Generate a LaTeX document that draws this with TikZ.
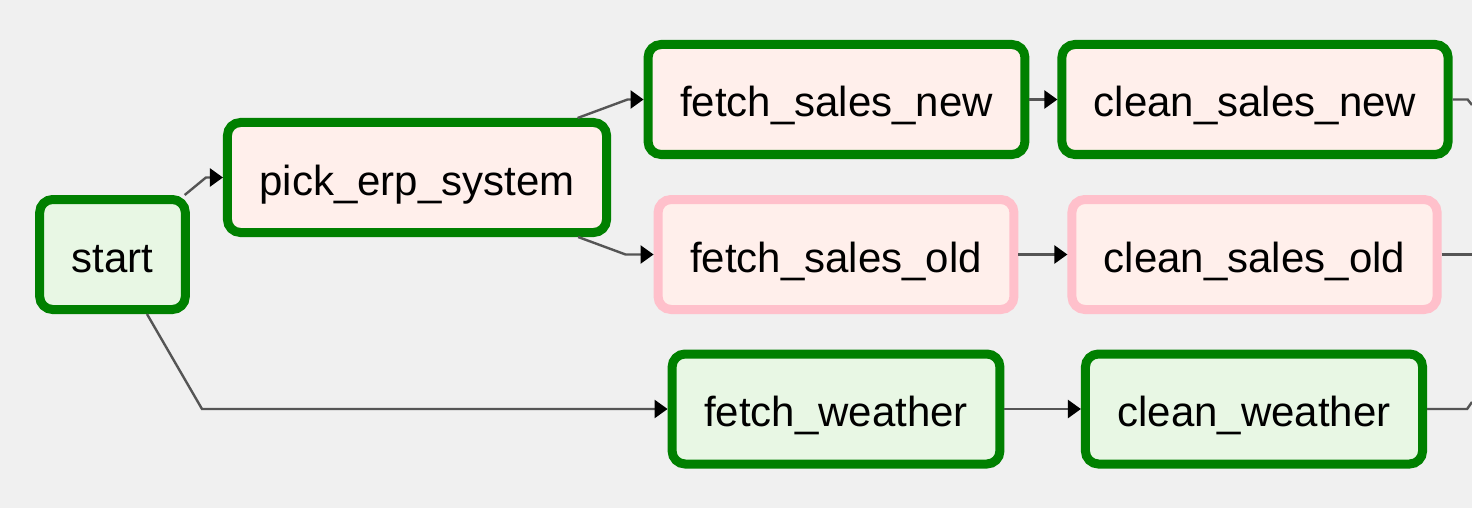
\documentclass[tikz,border=0pt]{standalone}
\usepackage{fontspec}
\setmainfont{Liberation Sans}
\usetikzlibrary{arrows.meta, positioning}

\definecolor{okgreen}{HTML}{008000}
\definecolor{skippink}{HTML}{FFC0CB}
\definecolor{dummyfill}{HTML}{E8F7E4}
\definecolor{pyfill}{HTML}{FFEFEB}
\definecolor{canvasgray}{HTML}{F0F0F0}
\definecolor{edgegray}{HTML}{555555}

\begin{document}
\begin{tikzpicture}[
	  x=0.5pt, y=-0.5pt,
	  font=\fontsize{21}{25}\selectfont,
	  task/.style={
	    draw=okgreen,
	    line width=4.5pt,
	    rounded corners=6.5pt,
	    minimum height=55pt,
	    inner xsep=16pt,
	    text height=22pt,
	    text depth=4.5pt,
	    fill=pyfill
	  },
	  dummytask/.style={task,fill=dummyfill},
	  skiptask/.style={task,draw=skippink},
	  edge/.style={edgegray,line width=1.2pt,-{Triangle[length=6.5pt,width=9pt,color=black]}},
	  loose/.style={edgegray,line width=1.2pt}
	]
	
	\fill[canvasgray] (0,0) rectangle (1472,508);
	\useasboundingbox (0,0) rectangle (1472,508);
	
	\node[dummytask] (start) at (112.5,254.5) {start};
	\node[task] (pick_erp) at (417,177.5) {pick\_erp\_system};
	
	\node[task] (fetch_new) at (836.5,99.5) {fetch\_sales\_new};
	\node[task] (clean_new) at (1255,99.5) {clean\_sales\_new};
	
	\node[skiptask] (fetch_old) at (836,254.5) {fetch\_sales\_old};
	\node[skiptask] (clean_old) at (1254.5,254.5) {clean\_sales\_old};
	
	\node[dummytask] (fetch_weather) at (836,409) {fetch\_weather};
	\node[dummytask] (clean_weather) at (1254,409) {clean\_weather};
	
	\coordinate (weather_bend) at (202,409);
	\coordinate (join_top) at (1472,105);
	\coordinate (join_mid) at (1472,254.5);
	\coordinate (join_low) at (1472,402);
	
	\draw[edge] (start) -- ([xshift=-8.5pt]pick_erp.west) -- (pick_erp.west);
	\draw[edge] (pick_erp) -- ([xshift=-8pt]fetch_new.west) -- (fetch_new.west);
	\draw[edge] (pick_erp) -- ([xshift=-14pt]fetch_old.west) -- (fetch_old.west);
	\draw[edge] (start) -- (weather_bend) -- (fetch_weather.west);
	
	\draw[edge] (fetch_new) -- (clean_new);
	\draw[edge] (fetch_old) -- (clean_old);
	\draw[edge] (fetch_weather) -- (clean_weather);
	
	\draw[loose] (clean_new.east) -- ++(7.5pt,0) -- (join_top);
	\draw[loose] (clean_old) -- (join_mid);
	\draw[loose] (clean_weather.east) -- ++(20pt,0) -- (join_low);
	
	\end{tikzpicture}
\end{document}
